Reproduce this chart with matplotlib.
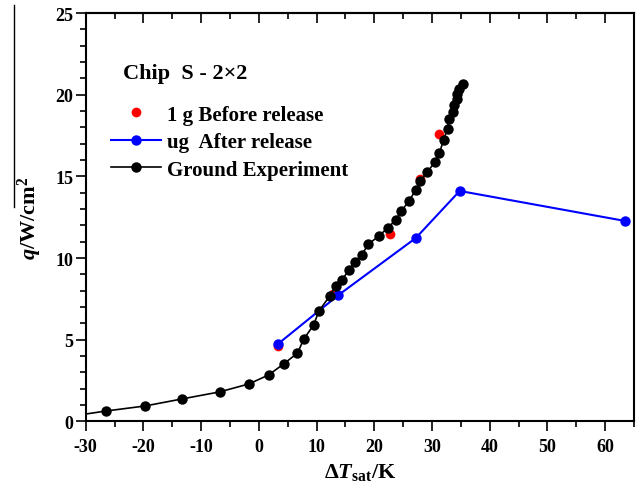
import numpy as np
import matplotlib
matplotlib.use('Agg')
import matplotlib.pyplot as plt
from matplotlib.lines import Line2D
from matplotlib.ticker import MultipleLocator

plt.rcParams['font.family'] = 'Liberation Serif'
plt.rcParams['font.weight'] = 'bold'
plt.rcParams['axes.unicode_minus'] = False
plt.rcParams['mathtext.fontset'] = 'custom'
plt.rcParams['mathtext.rm'] = 'Liberation Serif:bold'
plt.rcParams['mathtext.bf'] = 'Liberation Serif:bold'
plt.rcParams['mathtext.it'] = 'Liberation Serif:italic:bold'

# Ground experiment (black)
ground_dT = [-32.0, -26.5, -19.7, -13.3, -6.8, -1.7, 1.7, 4.3, 6.7, 7.8, 9.5, 10.4,
             12.3, 13.3, 14.4, 15.6, 16.6, 17.8, 19.0, 20.8, 22.3, 23.7, 24.7,
             26.0, 27.2, 28.0, 29.2, 30.5, 31.3, 32.0, 32.7, 32.9, 33.7, 33.9,
             34.3, 34.4, 34.6, 35.3]
ground_q = [0.35, 0.64, 0.95, 1.38, 1.81, 2.30, 2.85, 3.52, 4.19, 5.05, 5.91, 6.76,
            7.68, 8.29, 8.66, 9.27, 9.76, 10.19, 10.86, 11.35, 11.84, 12.33, 12.88,
            13.49, 14.17, 14.72, 15.27, 15.88, 16.43, 17.23, 17.90, 18.51, 18.94,
            19.37, 19.74, 20.04, 20.35, 20.66]

# 1 g before release (red)
before_dT = [3.4, 12.8, 22.7, 28.0, 31.2]
before_q = [4.62, 7.8, 11.47, 14.84, 17.6]

# ug after release (blue)
after_dT = [3.3, 13.8, 27.2, 34.8, 63.5]
after_q = [4.74, 7.74, 11.23, 14.11, 12.27]

fig = plt.figure(figsize=(6.38, 4.85), dpi=100)
ax = fig.add_axes([0.1343, 0.1289, 0.8594, 0.8422])

ax.plot(before_dT, before_q, 'o', color='red', markersize=7, markeredgewidth=0,
        label='1 g Before release', zorder=2)
ax.plot(after_dT, after_q, '-o', color='blue', markersize=7.5, lw=1.5,
        markeredgewidth=0, label='ug  After release', zorder=3)
ax.plot(ground_dT, ground_q, '-o', color='black', markersize=7.5, lw=1.2,
        markeredgewidth=0, label='Ground Experiment', zorder=4)

ax.set_xlim(-30, 65)
ax.set_ylim(0, 25)
ax.xaxis.set_major_locator(MultipleLocator(10))
ax.xaxis.set_minor_locator(MultipleLocator(5))
ax.yaxis.set_major_locator(MultipleLocator(5))
ax.yaxis.set_minor_locator(MultipleLocator(1))

ax.tick_params(axis='both', which='major', direction='out', length=7, width=1.2,
               labelsize=13)
ax.tick_params(axis='x', which='major', pad=5)
ax.tick_params(axis='y', which='major', pad=2)
ax.tick_params(axis='both', which='minor', direction='out', length=4, width=1.2)
# top ticks point inward
sec = ax.secondary_xaxis('top')
sec.xaxis.set_major_locator(MultipleLocator(10))
sec.xaxis.set_minor_locator(MultipleLocator(5))
sec.tick_params(which='major', direction='in', length=7, width=1.2, labeltop=False)
sec.tick_params(which='minor', direction='in', length=4, width=1.2)
sec.spines['top'].set_linewidth(1.5)

for s in ax.spines.values():
    s.set_linewidth(1.5)

ax.set_xlabel('$\\mathit{\u0394T}_{\\mathrm{sat}}\\mathrm{/K}$', fontsize=16, labelpad=4)
ax.set_ylabel(r'$\mathit{q}\mathrm{/W/cm}^{\mathrm{2}}$', fontsize=16, labelpad=8)

ax.text(0.068, 0.852, 'Chip  S - 2\u00d72', transform=ax.transAxes, fontsize=16,
        fontweight='bold', va='center', ha='left')
ax.legend(loc='upper left', bbox_to_anchor=(0.046, 0.776), frameon=False,
          fontsize=15, handlelength=2.4, handletextpad=0.3, labelspacing=0.36,
          borderpad=0, borderaxespad=0)

# stray vertical line next to the y label
fig.add_artist(Line2D([14 / 638, 14 / 638], [1 - 6 / 485, 1 - 208 / 485],
                      color='black', lw=1.0))

fig.savefig('out.png', dpi=100)
